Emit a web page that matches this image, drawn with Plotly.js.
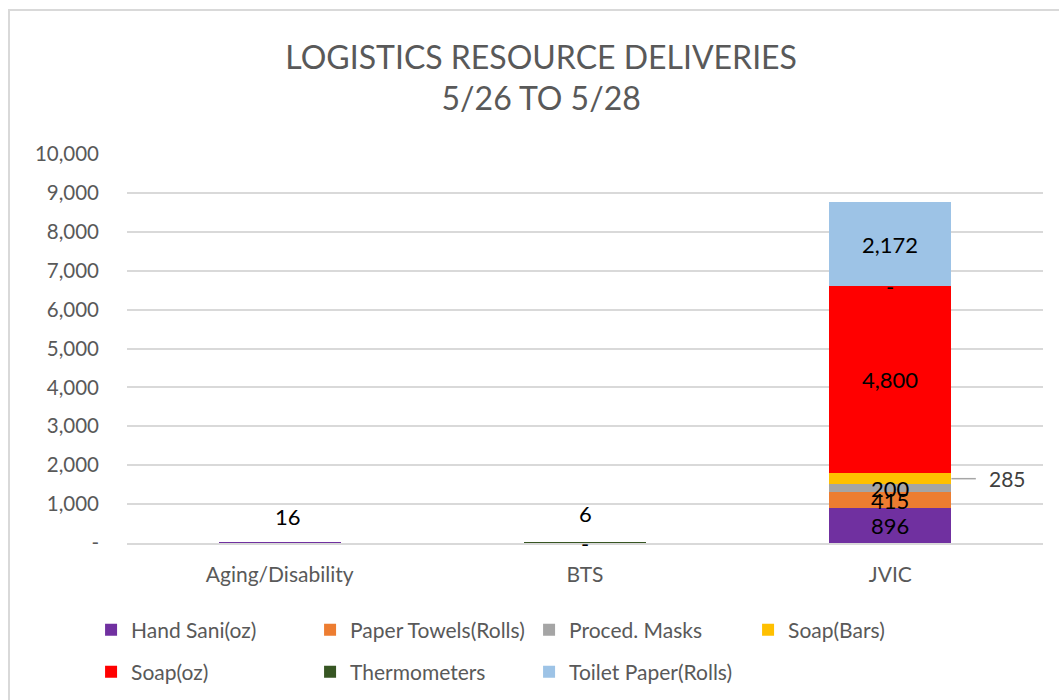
<!DOCTYPE html>
<html>
<head>
<meta charset="utf-8">
<script src="https://cdn.plot.ly/plotly-3.0.1.min.js"></script>
<style>
  html, body { margin: 0; padding: 0; background: #fff; overflow: hidden; }
  #wrap { position: relative; width: 1059px; height: 700px; }
  #chart { width: 1059px; height: 700px; }
  #frame { position: absolute; left: 8px; top: 9px; width: 1100px; height: 760px;
           border-left: 2px solid #d9d9d9; border-top: 2px solid #d9d9d9; pointer-events: none; }
</style>
</head>
<body>
<div id="wrap">
  <div id="chart"></div>
  <div id="frame"></div>
</div>
<script>
// ---- data ----
const categories = ['Aging/Disability', 'BTS', 'JVIC'];
const seriesNames = ['Hand Sani(oz)', 'Paper Towels(Rolls)', 'Proced. Masks', 'Soap(Bars)',
                     'Soap(oz)', 'Thermometers', 'Toilet Paper(Rolls)'];
const handSani      = [16,   null, 896];
const paperTowels   = [null, null, 415];
const procedMasks   = [null, 0,    200];
const soapBars      = [null, null, 285];
const soapOz        = [null, null, 4800];
const thermometers  = [null, 6,    0];
const toiletPaper   = [null, null, 2172];
const yTickVals  = [0, 1000, 2000, 3000, 4000, 5000, 6000, 7000, 8000, 9000, 10000];
const yTickText  = ['-', '1,000', '2,000', '3,000', '4,000', '5,000', '6,000', '7,000', '8,000', '9,000', '10,000'];

// ---- styling ----
const colors = ['#7030A0', '#ED7D31', '#A5A5A5', '#FFC000', '#FF0000', '#375623', '#9DC3E6'];
const allSeries = [handSani, paperTowels, procedMasks, soapBars, soapOz, thermometers, toiletPaper];
const FONT = 'Lato, "Open Sans", sans-serif';
const GREY = '#595959';
const barWidth = 0.4;

const traces = allSeries.map((vals, i) => ({
  type: 'bar',
  name: seriesNames[i],
  x: categories,
  y: vals.map(v => v === null ? 0 : v),
  width: barWidth,
  marker: { color: colors[i], line: { width: 0 } },
  hoverinfo: 'x+y+name',
  legend: i < 4 ? 'legend' : 'legend2'
}));

function fmt(v) { return v === 0 ? '-' : v.toLocaleString('en-US'); }

// data labels: centered in segments, with a few manually moved (like the original)
const moved = {
  '0-0': { yshift: 26 },          // Aging/Disability 16
  '5-1': { yshift: 29 }           // BTS 6
};
const annotations = [];
const shapes = [];
categories.forEach((cat, c) => {
  let base = 0;
  allSeries.forEach((vals, s) => {
    const v = vals[c];
    if (v === null) return;
    const mid = base + v / 2;
    base += v;
    const key = s + '-' + c;
    if (cat === 'JVIC' && seriesNames[s] === 'Soap(Bars)') {
      // callout outside the bar
      shapes.push({ type: 'line', xref: 'x', yref: 'y', x0: c + barWidth / 2, x1: c + barWidth / 2 + 0.08,
                    y0: mid, y1: mid, line: { color: '#a6a6a6', width: 1.5 } });
      annotations.push({ x: c + barWidth / 2 + 0.185, y: mid, xref: 'x', yref: 'y', text: fmt(v),
                         showarrow: false, font: { family: FONT, size: 21, color: '#404040' } });
      return;
    }
    const a = { x: cat, y: mid, xref: 'x', yref: 'y', text: fmt(v), showarrow: false,
                font: { family: FONT, size: 22, color: '#000' } };
    if (moved[key]) Object.assign(a, moved[key]);
    if (cat === 'Aging/Disability') a.xshift = 8;
    annotations.push(a);
  });
});

const legendCommon = {
  orientation: 'h', xref: 'container', yref: 'container',
  xanchor: 'left', yanchor: 'middle',
  font: { family: FONT, size: 21, color: GREY },
  entrywidth: 174, entrywidthmode: 'pixels',
  itemclick: false, itemdoubleclick: false,
  traceorder: 'normal', bgcolor: 'rgba(0,0,0,0)'
};

const layout = {
  width: 1059, height: 700,
  margin: { l: 127, r: 16, t: 154, b: 157 },
  paper_bgcolor: '#fff', plot_bgcolor: '#fff',
  barmode: 'stack',
  font: { family: FONT, color: GREY },
  title: {
    text: 'LOGISTICS RESOURCE DELIVERIES<br>5/26 TO 5/28',
    x: 0.511, xanchor: 'center', y: 0.902, yanchor: 'top', yref: 'container',
    font: { family: FONT, size: 32, color: GREY }
  },
  xaxis: {
    type: 'category', range: [-0.5, 2.5],
    showgrid: false, showline: true, linecolor: '#d9d9d9', linewidth: 1.5,
    ticks: '', tickfont: { family: FONT, size: 21, color: GREY },
    ticklabelstandoff: 12
  },
  yaxis: {
    range: [0, 10000], tickvals: yTickVals, ticktext: yTickText,
    showgrid: true, gridcolor: '#d9d9d9', gridwidth: 1.5,
    zeroline: false, showline: false, ticks: '',
    tickfont: { family: FONT, size: 20.5, color: GREY },
    ticklabelstandoff: 27
  },
  legend: Object.assign({}, legendCommon, { x: 0.086, y: 0.1 }),
  legend2: Object.assign({}, legendCommon, { x: 0.086, y: 0.04 }),
  annotations: annotations,
  shapes: shapes,
  showlegend: true
};

Plotly.newPlot('chart', traces, layout, { displayModeBar: false, responsive: false });
</script>
</body>
</html>
